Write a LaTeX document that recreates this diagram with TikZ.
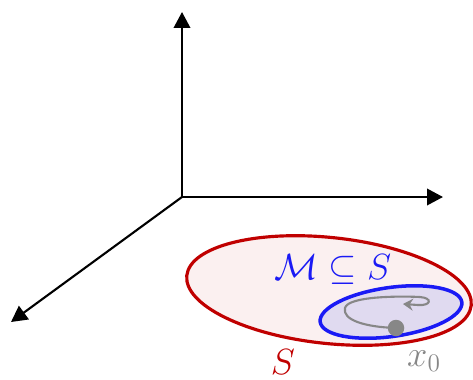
\documentclass[tikz,border=0pt]{standalone}
\usetikzlibrary{arrows.meta}
\definecolor{sred}{HTML}{C00000}
\definecolor{sredfill}{HTML}{FBF0F0}
\definecolor{mblue}{HTML}{1A1AF5}
\definecolor{mfill}{HTML}{E0DAF0}
\definecolor{tgray}{HTML}{878787}
\begin{document}
\begin{tikzpicture}[x=0.02cm,y=0.02cm,
  axis/.style={line width=1.2pt,-{Triangle[length=0.32cm,width=0.33cm]}},
  lbl/.style={inner sep=0pt,font=\fontsize{22}{26}\selectfont},
  traj/.style={tgray,line width=1.2pt,-{Stealth[length=0.2cm,width=0.24cm,inset=0.07cm]}}]
\useasboundingbox (0,0) rectangle (473,-379);
% axes
\coordinate (O) at (182,-197);
\coordinate (ztip) at (182,-12);
\coordinate (xtip) at (443,-197);
\coordinate (ytip) at (11,-322);
\draw[axis] (O) -- (ztip);
\draw[axis] (O) -- (xtip);
\draw[axis] (O) -- (ytip);
% set S
\draw[sred,fill=sredfill,line width=1.8pt] (329,-290.5) ellipse[x radius=143,y radius=53,rotate=-6];
% manifold M
\draw[mblue,fill=mfill,line width=2pt] (391,-312) ellipse[x radius=71.5,y radius=24.5,rotate=8];
% trajectory
\node[circle,fill=tgray,minimum size=0.33cm,inner sep=0pt] (x0dot) at (396,-328) {};
\draw[traj] (x0dot.center) .. controls (365,-327) and (342,-320) .. (345,-308)
  .. controls (348,-296) and (400,-296) .. (420,-297)
  .. controls (433,-298) and (431,-306) .. (418,-305)
  -- (403,-304);
% labels
\node[lbl,text=mblue] (mlbl) at (333,-270) {$\mathcal{M}\subseteq S$};
\node[lbl,text=sred] (slbl) at (283,-362) {$S$};
\node[lbl,text=tgray] (xlbl) at (424,-361) {$x_0$};
\end{tikzpicture}
\end{document}
